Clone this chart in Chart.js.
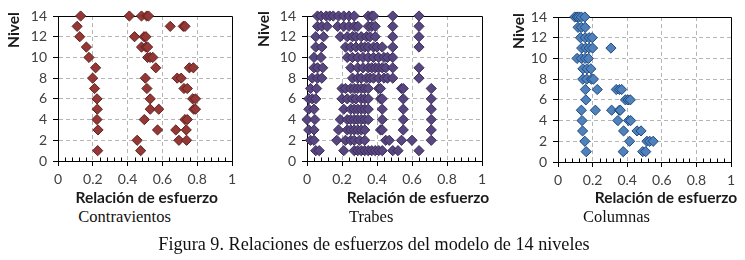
<!DOCTYPE html>
<html><head><meta charset="utf-8">
<script src="https://cdn.jsdelivr.net/npm/chart.js@4.4.1/dist/chart.umd.min.js"></script>
<style>
html,body{margin:0;padding:0;background:#fff;}
#wrap{position:relative;width:745px;height:260px;overflow:hidden;background:#fff;}
canvas{position:absolute;top:0;}
.t{position:absolute;white-space:nowrap;line-height:1;}
.xt{font:bold 15.5px Lato, sans-serif;color:#1a1a1a;text-align:center;width:200px;}
.yt{font:bold 15.5px Lato, sans-serif;color:#1a1a1a;transform:translate(-50%,-50%) rotate(-90deg);}
.cap{font:16.5px "Liberation Serif", serif;color:#111;}
.fig{font:18.2px "Liberation Serif", serif;color:#111;width:520px;text-align:center;}
</style></head><body><div id="wrap">
<canvas id="c1" width="244" height="190" style="left:0px"></canvas>
<canvas id="c2" width="245" height="190" style="left:249px"></canvas>
<canvas id="c3" width="243" height="190" style="left:500px"></canvas>
<div class="t yt" style="left:12.5px;top:29.5px">Nivel</div>
<div class="t yt" style="left:262.5px;top:29px">Nivel</div>
<div class="t yt" style="left:517.5px;top:31px">Nivel</div>
<div class="t xt" style="left:46.7px;top:188.2px">Relación de esfuerzo</div>
<div class="t xt" style="left:318px;top:188.2px">Relación de esfuerzo</div>
<div class="t xt" style="left:566px;top:188.2px">Relación de esfuerzo</div>
<div class="t cap" style="left:78.3px;top:207.2px">Contravientos</div>
<div class="t cap" style="left:349px;top:207.2px">Trabes</div>
<div class="t cap" style="left:583px;top:207.2px">Columnas</div>
<div class="t fig" style="left:114px;top:233.5px">Figura 9. Relaciones de esfuerzos del modelo de 14 niveles</div>
</div>
<script>
// ---- data ----
const levels = [14,13,12,11,10,9,8,7,6,5,4,3,2,1];
const xTickLabels = ['0','0.2','0.4','0.6','0.8','1'];
const yTickLabels = ['0','2','4','6','8','10','12','14'];
const contravientos = [
  [0.13,0.41,0.48,0.51,0.52],
  [0.11,0.645,0.72,0.73],
  [0.125,0.44,0.495,0.505],
  [0.163,0.48,0.505,0.515],
  [0.178,0.515,0.53,0.545],
  [0.216,0.562,0.755,0.778],
  [0.199,0.502,0.685,0.708],
  [0.21,0.511,0.724,0.743],
  [0.224,0.53,0.774,0.79],
  [0.226,0.53,0.579,0.78,0.79],
  [0.224,0.496,0.73,0.743],
  [0.23,0.572,0.677,0.737],
  [0.455,0.695,0.739],
  [0.228,0.475]
];
const trabes = [
  [0.06,0.08,0.11,0.13,0.15,0.18,0.21,0.24,0.27,0.35,0.37,0.38,0.49,0.64],
  [0.06,0.085,0.115,0.175,0.21,0.24,0.27,0.29,0.35,0.37,0.39,0.49,0.64],
  [0.05,0.095,0.19,0.23,0.26,0.28,0.31,0.34,0.36,0.39,0.49,0.64],
  [0.05,0.085,0.22,0.25,0.28,0.31,0.33,0.35,0.38,0.40,0.43,0.49,0.64],
  [0.04,0.08,0.23,0.26,0.29,0.32,0.35,0.38,0.41,0.44,0.46,0.49],
  [0.04,0.06,0.09,0.25,0.29,0.32,0.35,0.37,0.39,0.41,0.43,0.45,0.49,0.64],
  [0.03,0.06,0.085,0.26,0.29,0.31,0.34,0.36,0.38,0.41,0.44,0.46,0.49,0.64],
  [0.02,0.055,0.2,0.22,0.25,0.27,0.29,0.31,0.33,0.35,0.41,0.42,0.54,0.55,0.71],
  [0.01,0.03,0.05,0.2,0.23,0.26,0.28,0.31,0.33,0.35,0.42,0.43,0.55,0.71],
  [0.01,0.04,0.21,0.25,0.27,0.29,0.31,0.33,0.35,0.43,0.55,0.71],
  [0.0,0.045,0.19,0.23,0.25,0.27,0.29,0.31,0.33,0.35,0.43,0.55,0.71],
  [0.01,0.04,0.18,0.23,0.25,0.27,0.29,0.31,0.33,0.42,0.43,0.55,0.71],
  [0.02,0.04,0.17,0.22,0.25,0.27,0.30,0.33,0.45,0.47,0.54,0.60,0.71],
  [0.05,0.07,0.21,0.27,0.29,0.31,0.33,0.35,0.37,0.39,0.41,0.43,0.49,0.52,0.64]
];
const columnas = [
  [0.097,0.11,0.12,0.135,0.155],
  [0.116,0.135,0.157],
  [0.13,0.157,0.18,0.198],
  [0.137,0.16,0.18,0.2,0.306],
  [0.11,0.135,0.157,0.176],
  [0.144,0.168,0.19],
  [0.143,0.166,0.193,0.205],
  [0.158,0.227,0.337,0.355,0.368],
  [0.161,0.39,0.405,0.418],
  [0.135,0.216,0.31,0.355,0.36],
  [0.139,0.346,0.408,0.42],
  [0.142,0.379,0.457,0.48],
  [0.155,0.414,0.514,0.53,0.55],
  [0.163,0.377,0.49,0.507]
];

function toPoints(rows){
  const pts=[];
  rows.forEach((row,i)=>row.forEach(v=>pts.push({x:v,y:levels[i]})));
  return pts;
}

const framePlugin = {
  id:'frame',
  beforeDatasetsDraw(chart){
    const {ctx, scales:{x,y}} = chart;
    const L=Math.round(x.getPixelForValue(0))+0.5, R=Math.round(x.getPixelForValue(1))+0.5;
    const T=Math.round(y.getPixelForValue(14))+0.5, B=Math.round(y.getPixelForValue(0))+0.5;
    ctx.save();
    ctx.strokeStyle='#000'; ctx.lineWidth=1; ctx.setLineDash([]);
    ctx.beginPath();
    ctx.moveTo(L,T); ctx.lineTo(R,T); ctx.lineTo(R,B);
    for(let i=1;i<25;i++){
      if(i%5===0) continue;
      const px=Math.round(x.getPixelForValue(i*0.04))+0.5;
      ctx.moveTo(px,B); ctx.lineTo(px,B-4);
    }
    ctx.stroke();
    ctx.restore();
  }
};

function makeChart(id, rows, fill, border, cw, top, bottom){
  const H=190;
  new Chart(document.getElementById(id), {
    type:'scatter',
    data:{datasets:[{data:toPoints(rows), pointStyle:'rectRot', pointRadius:5.1,
      backgroundColor:fill, borderColor:border, borderWidth:1, clip:false}]},
    options:{
      responsive:false, animation:false, devicePixelRatio:1,
      layout:{padding:{top:top,left:0,right:12,bottom:0}},
      plugins:{legend:{display:false},tooltip:{enabled:false}},
      scales:{
        x:{type:'linear',min:0,max:1,
          afterFit(s){s.height=H-bottom;},
          ticks:{stepSize:0.2,autoSkip:false,maxRotation:0,padding:5,color:'#404040',
            font:{family:'Lato',size:14},callback:(v,i)=>xTickLabels[i]},
          grid:{color:c=>(c.tick&&(c.tick.value<=0||c.tick.value>=1))?'rgba(0,0,0,0)':'#b5b5b5',
            tickColor:'#000',tickLength:5,lineWidth:1},
          border:{display:true,color:'#000',width:1,dash:[4,3]}},
        y:{type:'linear',min:0,max:14,
          afterFit(s){s.width=58;},
          ticks:{stepSize:2,autoSkip:false,padding:6,color:'#404040',
            font:{family:'Lato',size:14},callback:(v,i)=>yTickLabels[i]},
          grid:{color:c=>(c.tick&&(c.tick.value<=0||c.tick.value>=14))?'rgba(0,0,0,0)':'#b5b5b5',
            tickColor:'#000',tickLength:5,lineWidth:1},
          border:{display:true,color:'#000',width:1,dash:[4,3]}}
      }
    },
    plugins:[framePlugin]
  });
}

makeChart('c1', contravientos, '#953735', '#5e2221', 174, 16, 161);
makeChart('c2', trabes, '#584681', '#3a2d58', 175, 16, 161);
makeChart('c3', columnas, '#4f81bd', '#1f497d', 173, 17, 162);
</script>
</body></html>
